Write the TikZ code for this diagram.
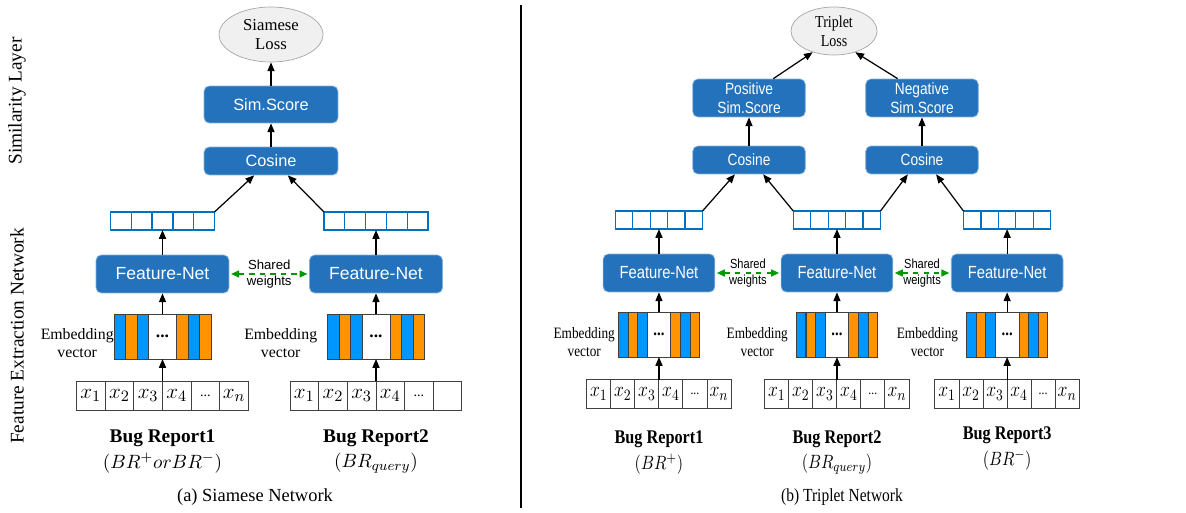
\documentclass[tikz,border=0pt]{standalone}
\usepackage[no-math]{fontspec}
\setmainfont{Liberation Serif}
\setsansfont{Liberation Sans}
\usepackage{tikz}
\usetikzlibrary{positioning,arrows.meta,shapes.geometric,calc}
\definecolor{NetBlue}{RGB}{35,114,187}
\definecolor{CellBlue}{RGB}{0,112,192}
\definecolor{EmbBlue}{RGB}{0,150,255}
\definecolor{EmbOrange}{RGB}{255,147,0}
\definecolor{ShareGreen}{RGB}{0,153,0}
\newcommand\indots{{\fontsize{8}{8}\selectfont ...}}
\tikzset{
  netbox/.style={draw=NetBlue!55!white, fill=NetBlue, rounded corners=3pt, text=white, align=center,
    font=\sffamily\fontsize{9.3}{11}\selectfont, minimum width=2.68cm, minimum height=0.56cm, inner sep=1pt},
  featbox/.style={netbox, font=\sffamily\fontsize{10}{12}\selectfont, minimum width=2.66cm, minimum height=0.76cm},
  lossnode/.style={ellipse, draw=gray!70, fill=gray!12, align=center, font=\fontsize{9.5}{11}\selectfont,
    minimum width=2.08cm, minimum height=1.1cm, inner sep=0pt},
  vcell/.style={draw=CellBlue, line width=0.7pt, fill=white, minimum width=0.416cm, minimum height=0.36cm,
    inner sep=0pt, outer sep=0pt},
  stripe/.style={draw=black!75, line width=0.4pt, minimum width=0.23cm, minimum height=0.9cm, inner sep=0pt, outer sep=0pt},
  embmid/.style={stripe, fill=white, minimum width=0.56cm, font=\bfseries\fontsize{10}{10}\selectfont},
  incell/.style={draw=black!75, line width=0.5pt, fill=white, minimum width=0.573cm, minimum height=0.58cm,
    inner sep=0pt, outer sep=0pt, font=\fontsize{13}{13}\selectfont},
  emblabel/.style={font=\fontsize{9}{10.2}\selectfont, align=center, inner sep=0pt},
  buglabel/.style={font=\bfseries\fontsize{11}{13}\selectfont},
  sublabel/.style={font=\fontsize{11}{13}\selectfont},
  sidelabel/.style={rotate=90, font=\fontsize{11}{13}\selectfont},
  caplabel/.style={font=\fontsize{10.5}{12}\selectfont},
  arr/.style={-{Triangle[length=5pt,width=4pt]}, line width=0.7pt},
  sharearr/.style={{Triangle[length=4.5pt,width=4pt]}-{Triangle[length=4.5pt,width=4pt]}, dashed, ShareGreen,
    line width=0.7pt, shorten <=1pt, shorten >=1pt},
  sharetxt/.style={font=\sffamily\fontsize{7.5}{9}\selectfont, align=center, text=black, inner sep=0pt},
}

\begin{document}
\begin{tikzpicture}[x=0.02cm, y=-0.02cm]
\useasboundingbox (0,0) rectangle (1186,513);
\node[sidelabel] (simlayer) at (17,101) {Similarity Layer};
\node[sidelabel] (featlayer) at (17,336) {Feature Extraction Network};
\coordinate (divtop) at (521,5);
\coordinate (divbot) at (521,508);
\draw[line width=0.75pt] (divtop) -- (divbot);

% (a) siamese
\foreach \p/\x/\rep/\sub/\last/\gap in {A/162.5/1/{$(BR^{+}orBR^{-})$}/{$x_n$}/0, B/376/2/{$(BR_{query})$}/{}/10} {
  \node[featbox] (fn\p) at (\x,274) {Feature-Net};
  \node[embmid, alias=e\p l0, alias=e\p r0] (e\p0) at (\x,336.5) {...};
  \foreach \c [count=\i, remember=\i as \j (initially 0)] in {EmbBlue,EmbOrange,EmbBlue}
    \node[stripe, fill=\c, left=0pt of e\p l\j] (e\p l\i) {};
  \foreach \c [count=\i, remember=\i as \j (initially 0)] in {EmbOrange,EmbBlue,EmbOrange}
    \node[stripe, fill=\c, right=0pt of e\p r\j] (e\p r\i) {};
  \node[incell] (in\p1) at (\x-71.67,395.5) {$x_1$};
  \foreach \t [count=\i from 2, remember=\i as \j (initially 1)] in {$x_2$,$x_3$,$x_4$,\indots,\last}
    \node[incell, right=0pt of in\p\j] (in\p\i) {\t};
  \node[vcell] (v\p1) at (\x-41.6,221) {};
  \foreach \i [remember=\i as \j (initially 1)] in {2,3,4,5}
    \node[vcell, right=0pt of v\p\j] (v\p\i) {};
  \draw[arr] (e\p0 |- in\p1.north) -- (e\p0.south);
  \draw[arr] (e\p0.north) -- (fn\p.south);
  \draw[arr] (fn\p.north) -- (fn\p.north |- v\p3.south);
  \node[emblabel, anchor=east] (el\p) at ($(e\p l3.west)+(-\gap,7)$) {Embedding\\vector};
  \node[buglabel] (bug\p) at (\x,438) {Bug Report\rep};
  \node[sublabel] (sub\p) at (\x,463) {\sub};
}
\node[netbox] (cos) at (271,161) {Cosine};
\node[netbox, minimum height=0.74cm] (sim) at (271,104.5) {Sim.Score};
\node[lossnode] (loss) at (271,34.5) {Siamese\\Loss};
\draw[arr] (vA5.north east) -- ($(cos.south)!0.25!(cos.south west)$);
\draw[arr] (vB1.north west) -- ($(cos.south)!0.25!(cos.south east)$);
\draw[arr] (cos.north) -- (sim.south);
\draw[arr] (sim.north) -- (loss.south);
\draw[sharearr] (fnA.east) -- (fnB.west) node[sharetxt, midway] (shareAB) {Shared\\weights};
\node[caplabel] (capa) at (255,497) {(a) Siamese Network};

% (b) triplet
\begin{scope}[xscale=0.84, transform shape]
\foreach \p/\x/\rep/\sub/\gap/\by in {tA/784.5/1/{$(BR^{+})$}/3.6/439, tB/996.4/2/{$(BR_{query})$}/9.5/439, tC/1199/3/{$(BR^{-})$}/9.5/435} {
  \node[featbox] (fn\p) at (\x,273) {Feature-Net};
  \node[embmid, alias=e\p l0, alias=e\p r0] (e\p0) at (\x,334.5) {...};
  \foreach \c [count=\i, remember=\i as \j (initially 0)] in {EmbBlue,EmbOrange,EmbBlue}
    \node[stripe, fill=\c, left=0pt of e\p l\j] (e\p l\i) {};
  \foreach \c [count=\i, remember=\i as \j (initially 0)] in {EmbOrange,EmbBlue,EmbOrange}
    \node[stripe, fill=\c, right=0pt of e\p r\j] (e\p r\i) {};
  \node[incell] (in\p1) at (\x-71.67,394) {$x_1$};
  \foreach \t [count=\i from 2, remember=\i as \j (initially 1)] in {$x_2$,$x_3$,$x_4$,\indots,$x_n$}
    \node[incell, right=0pt of in\p\j] (in\p\i) {\t};
  \node[vcell] (v\p1) at (\x-41.6,220) {};
  \foreach \i [remember=\i as \j (initially 1)] in {2,3,4,5}
    \node[vcell, right=0pt of v\p\j] (v\p\i) {};
  \draw[arr] (e\p0 |- in\p1.north) -- (e\p0.south);
  \draw[arr] (e\p0.north) -- (fn\p.south);
  \draw[arr] (fn\p.north) -- (fn\p.north |- v\p3.south);
  \node[emblabel, anchor=east] (el\p) at ($(e\p l3.west)+(-\gap,8)$) {Embedding\\vector};
  \node[buglabel] (bug\p) at (\x,\by) {Bug Report\rep};
  \node[sublabel] (sub\p) at (\x,\by+25) {\sub};
}
\node[netbox] (cosP) at (891.7,160) {Cosine};
\node[netbox] (cosN) at (1097.6,160) {Cosine};
\node[netbox, minimum height=0.76cm] (pos) at (891.7,98) {Positive\\Sim.Score};
\node[netbox, minimum height=0.76cm] (neg) at (1097.6,98) {Negative\\Sim.Score};
\node[lossnode, minimum width=2.05cm, minimum height=0.96cm] (tloss) at (992.9,31) {Triplet\\Loss};
\draw[arr] (vtA5.north east) -- ($(cosP.south)!0.25!(cosP.south west)$);
\draw[arr] (vtB1.north west) -- ($(cosP.south)!0.25!(cosP.south east)$);
\draw[arr] (vtB5.north east) -- ($(cosN.south)!0.25!(cosN.south west)$);
\draw[arr] (vtC1.north west) -- ($(cosN.south)!0.25!(cosN.south east)$);
\draw[arr] (cosP.north) -- (pos.south);
\draw[arr] (cosN.north) -- (neg.south);
\draw[arr] ($(pos.north)!0.43!(pos.north east)$) -- (tloss.220);
\draw[arr] ($(neg.north)!0.43!(neg.north west)$) -- (tloss.320);
\draw[sharearr] (fntA.east) -- (fntB.west) node[sharetxt, midway] (sharePQ) {Shared\\weights};
\draw[sharearr] (fntB.east) -- (fntC.west) node[sharetxt, midway] (shareQN) {Shared\\weights};
\node[caplabel] (capb) at (1002.4,497) {(b) Triplet Network};
\end{scope}
\end{tikzpicture}
\end{document}
